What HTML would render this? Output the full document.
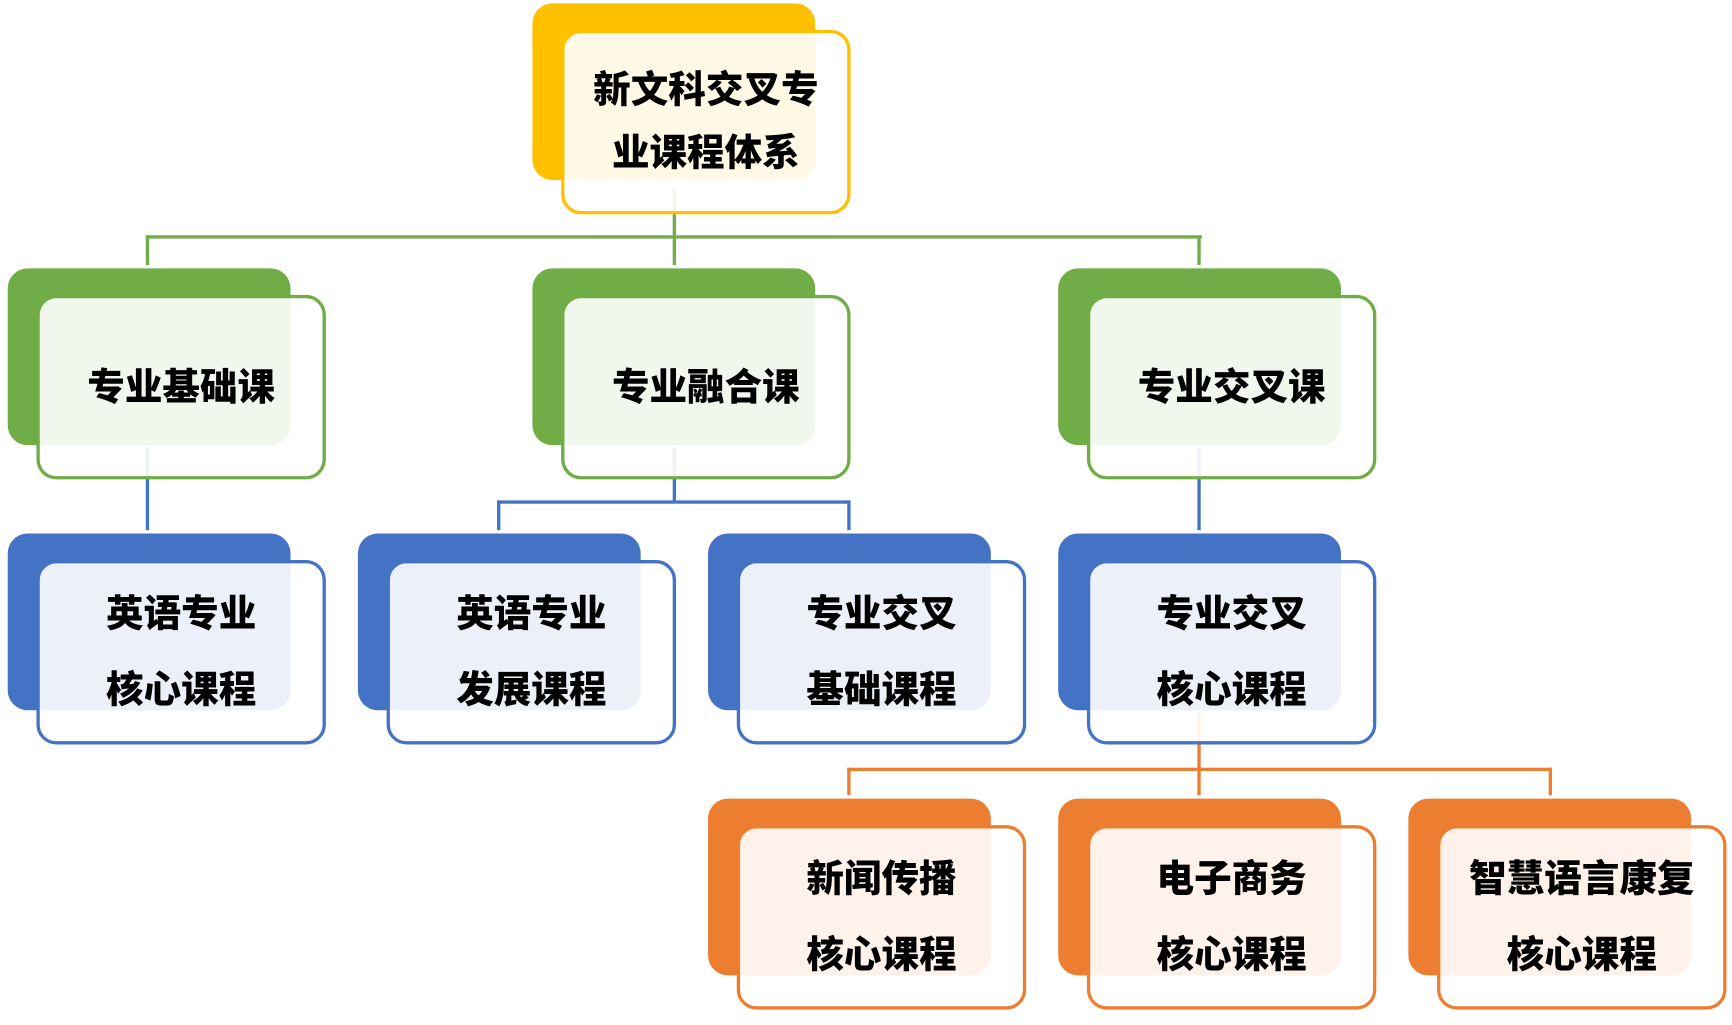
<!DOCTYPE html>
<html><head><meta charset="utf-8"><style>
html,body{margin:0;padding:0;background:#fff;width:1732px;height:1025px;overflow:hidden}
#w{position:absolute;left:0;top:0;width:1568px;height:928px;transform:scale(1.1046);transform-origin:0 0}
.b{position:absolute;width:256px;height:160px;border-radius:18px}
.f{position:absolute;width:256px;height:161px;border:3px solid;border-radius:18px;background:rgba(255,255,255,0.9);display:flex;flex-direction:column;align-items:center;justify-content:center;font-family:"Liberation Sans","Noto Sans CJK SC",sans-serif;font-weight:900;font-size:34px;color:#000;line-height:1}
.f div{margin:0}
.two div+div{margin-top:35px}
.root div+div{margin-top:23px}
.l{position:absolute}
</style></head><body><div id="w">
<div class="l" style="left:609px;top:170px;width:3px;height:70px;background:#70AD47"></div>
<div class="l" style="left:132px;top:213px;width:956px;height:3px;background:#70AD47"></div>
<div class="l" style="left:132px;top:213px;width:3px;height:27px;background:#70AD47"></div>
<div class="l" style="left:1084px;top:213px;width:3px;height:27px;background:#70AD47"></div>

<div class="l" style="left:132px;top:405px;width:3px;height:75px;background:#4472C4"></div>
<div class="l" style="left:609px;top:405px;width:3px;height:50px;background:#4472C4"></div>
<div class="l" style="left:450px;top:453px;width:320px;height:3px;background:#4472C4"></div>
<div class="l" style="left:450px;top:453px;width:3px;height:27px;background:#4472C4"></div>
<div class="l" style="left:767px;top:453px;width:3px;height:27px;background:#4472C4"></div>
<div class="l" style="left:1084px;top:405px;width:3px;height:75px;background:#4472C4"></div>

<div class="l" style="left:1084px;top:645px;width:3px;height:75px;background:#ED7D31"></div>
<div class="l" style="left:767px;top:695px;width:638px;height:3px;background:#ED7D31"></div>
<div class="l" style="left:767px;top:695px;width:3px;height:25px;background:#ED7D31"></div>
<div class="l" style="left:1402px;top:695px;width:3px;height:25px;background:#ED7D31"></div>

<div class="b" style="left:482px;top:3px;background:#FFC000"></div>
<div class="f root" style="left:508px;top:27px;border-color:#FFC000"><div>新文科交叉专</div><div>业课程体系</div></div>

<div class="b" style="left:7px;top:243px;background:#70AD47"></div>
<div class="f" style="left:33px;top:267px;border-color:#70AD47"><div>专业基础课</div></div>
<div class="b" style="left:482px;top:243px;background:#70AD47"></div>
<div class="f" style="left:508px;top:267px;border-color:#70AD47"><div>专业融合课</div></div>
<div class="b" style="left:958px;top:243px;background:#70AD47"></div>
<div class="f" style="left:984px;top:267px;border-color:#70AD47"><div>专业交叉课</div></div>

<div class="b" style="left:7px;top:483px;background:#4472C4"></div>
<div class="f two" style="left:33px;top:507px;border-color:#4472C4"><div>英语专业</div><div>核心课程</div></div>
<div class="b" style="left:324px;top:483px;background:#4472C4"></div>
<div class="f two" style="left:350px;top:507px;border-color:#4472C4"><div>英语专业</div><div>发展课程</div></div>
<div class="b" style="left:641px;top:483px;background:#4472C4"></div>
<div class="f two" style="left:667px;top:507px;border-color:#4472C4"><div>专业交叉</div><div>基础课程</div></div>
<div class="b" style="left:958px;top:483px;background:#4472C4"></div>
<div class="f two" style="left:984px;top:507px;border-color:#4472C4"><div>专业交叉</div><div>核心课程</div></div>

<div class="b" style="left:641px;top:723px;background:#ED7D31"></div>
<div class="f two" style="left:667px;top:747px;border-color:#ED7D31"><div>新闻传播</div><div>核心课程</div></div>
<div class="b" style="left:958px;top:723px;background:#ED7D31"></div>
<div class="f two" style="left:984px;top:747px;border-color:#ED7D31"><div>电子商务</div><div>核心课程</div></div>
<div class="b" style="left:1275px;top:723px;background:#ED7D31"></div>
<div class="f two" style="left:1301px;top:747px;border-color:#ED7D31"><div>智慧语言康复</div><div>核心课程</div></div>
</div></body></html>
